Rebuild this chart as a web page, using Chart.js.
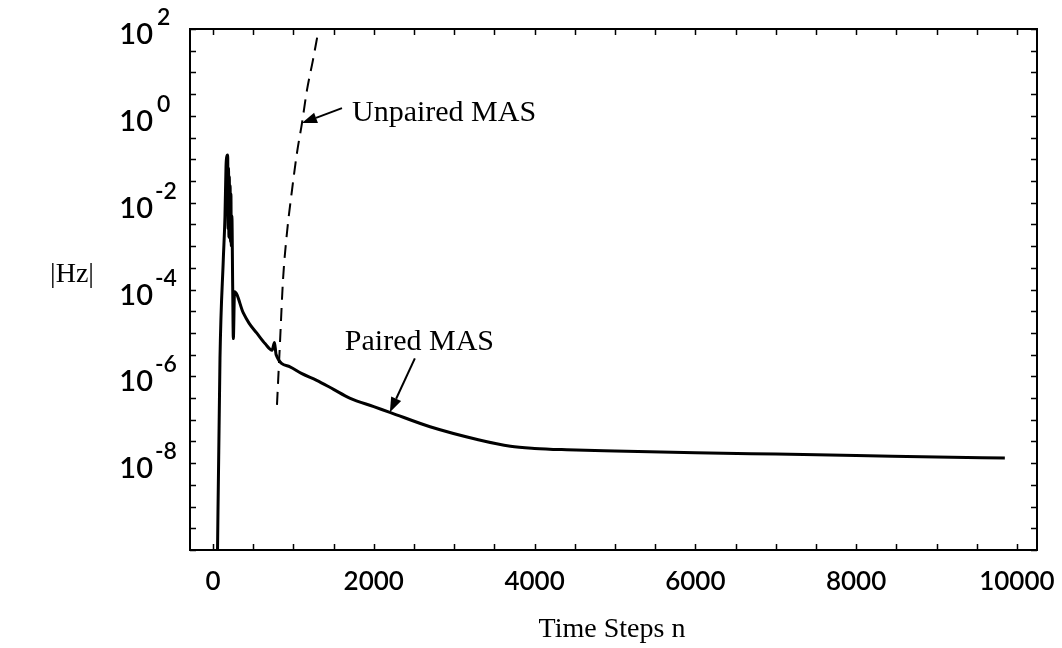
<!DOCTYPE html>
<html>
<head>
<meta charset="utf-8">
<script src="https://cdn.jsdelivr.net/npm/chart.js@4.4.1/dist/chart.umd.min.js"></script>
<style>
  html, body { margin: 0; padding: 0; background: #fff; }
  #wrap { width: 1062px; height: 648px; position: relative; }
</style>
</head>
<body>
<div id="wrap"><canvas id="c"></canvas></div>
<script>
// Paired MAS: |Hz| against time step n
const pairedSteps = [50, 87, 128, 149, 162, 170, 183, 188, 193, 198, 203, 208, 213, 218, 223, 228, 235, 245, 253, 268,
  377, 450, 543, 650, 735, 765, 785, 958, 1100, 1290, 1500, 1700, 2000, 2200, 2700, 3300, 3700,
  4000, 4400, 5000, 6000, 7000, 8000, 9000, 9850];
const pairedHz = [1e-11, 2.6e-6, 4.8e-4, 4.8e-3, 6.8e-2, 1.12e-1, 1.26e-1, 2.5e-3, 6.3e-2, 1.6e-3, 4.0e-2, 2.0e-3, 2.5e-2, 1.26e-3, 1.6e-2, 1.0e-3, 5.0e-3, 1.15e-4, 7.4e-6, 8.9e-5,
  2.88e-5, 1.66e-5, 1.0e-5, 5.6e-6, 3.98e-6, 6.0e-6, 3.16e-6, 1.66e-6, 1.17e-6, 8.1e-7, 5.0e-7, 3.16e-7, 2.0e-7, 1.48e-7, 6.9e-8, 3.47e-8, 2.45e-8,
  2.19e-8, 2.04e-8, 1.91e-8, 1.74e-8, 1.62e-8, 1.51e-8, 1.38e-8, 1.32e-8];

// Unpaired MAS: grows without bound
const unpairedSteps = [796, 833, 871, 920, 983, 1045, 1107, 1169, 1244, 1306, 1360];
const unpairedHz = [2.2e-7, 5.8e-6, 1.66e-4, 2.0e-3, 1.95e-2, 1.41e-1, 6.8e-1, 3.9, 19.5, 81, 280];

// Axis ticks
const xTickLabels = [0, 2000, 4000, 6000, 8000, 10000];
const yTickExponents = [2, 0, -2, -4, -6, -8];

// Annotation anchors (data points the arrows point at)
const unpairedNote = { text: 'Unpaired MAS', n: 1107, hz: 6.8e-1 };
const pairedNote = { text: 'Paired MAS', n: 2200, hz: 1.48e-7 };

const toPoints = (xs, ys) => xs.map((v, i) => ({ x: v, y: ys[i] }));

function arrow(ctx, x0, y0, x1, y1) {
  const ang = Math.atan2(y1 - y0, x1 - x0);
  const len = 15, half = 5.5;
  const bx = x1 - len * Math.cos(ang), by = y1 - len * Math.sin(ang);
  ctx.beginPath();
  ctx.moveTo(x0, y0);
  ctx.lineTo(bx, by);
  ctx.lineWidth = 2;
  ctx.stroke();
  ctx.beginPath();
  ctx.moveTo(x1, y1);
  ctx.lineTo(bx + half * Math.sin(ang), by - half * Math.cos(ang));
  ctx.lineTo(bx - half * Math.sin(ang), by + half * Math.cos(ang));
  ctx.closePath();
  ctx.fill();
}

const frameAndLabels = {
  id: 'frameAndLabels',
  afterDatasetsDraw(chart) {
    const { ctx, chartArea: a, scales: { x, y } } = chart;
    ctx.save();
    ctx.strokeStyle = '#000';
    ctx.fillStyle = '#000';

    // plot frame
    ctx.lineWidth = 2;
    ctx.strokeRect(a.left, a.top, a.right - a.left, a.bottom - a.top);

    // inward ticks: every 500 steps on x, every half decade on y
    const tl = 6;
    ctx.lineWidth = 1.5;
    ctx.beginPath();
    for (let v = 0; v <= x.max; v += 500) {
      const px = Math.round(x.getPixelForValue(v)) + 0.5;
      if (px <= a.left + 1 || px >= a.right - 1) continue;
      ctx.moveTo(px, a.bottom); ctx.lineTo(px, a.bottom - tl);
      ctx.moveTo(px, a.top); ctx.lineTo(px, a.top + tl);
    }
    for (let e = -10; e <= 2; e += 0.5) {
      const py = Math.round(y.getPixelForValue(Math.pow(10, e))) + 0.5;
      ctx.moveTo(a.left, py); ctx.lineTo(a.left + tl, py);
      ctx.moveTo(a.right, py); ctx.lineTo(a.right - tl, py);
    }
    ctx.stroke();

    // x tick labels
    ctx.font = '600 26px Lato';
    ctx.textAlign = 'center';
    ctx.textBaseline = 'alphabetic';
    xTickLabels.forEach(v => {
      ctx.fillText(String(v), x.getPixelForValue(v), 590);
    });

    // y tick labels as 10 with superscript exponent
    yTickExponents.forEach(e => {
      const py = y.getPixelForValue(Math.pow(10, e));
      ctx.font = '600 29px Lato';
      ctx.textAlign = 'right';
      ctx.fillText('10', 153, py + 15);
      ctx.font = '600 23px Lato';
      ctx.textAlign = 'left';
      ctx.fillText(e < 0 ? '-' + Math.abs(e) : String(e), e < 0 ? 155 : 157, py - 4);
    });

    // axis titles
    ctx.font = '28px "Liberation Serif"';
    ctx.textAlign = 'center';
    ctx.fillText('Time Steps n', 612, 637);
    ctx.fillText('|Hz|', 72, 282);

    // annotations
    ctx.textAlign = 'left';
    ctx.font = '30px "Liberation Serif"';
    const ux = x.getPixelForValue(unpairedNote.n), uy = y.getPixelForValue(unpairedNote.hz);
    arrow(ctx, ux + 40, uy - 15, ux, uy);
    ctx.fillText(unpairedNote.text, ux + 50, uy - 2);

    const px = x.getPixelForValue(pairedNote.n), py = y.getPixelForValue(pairedNote.hz);
    arrow(ctx, px + 25, py - 54, px, py);
    ctx.fillText(pairedNote.text, px - 45, py - 62);

    ctx.restore();
  }
};

new Chart(document.getElementById('c'), {
  type: 'line',
  data: {
    datasets: [
      {
        label: 'Paired MAS',
        data: toPoints(pairedSteps, pairedHz),
        borderColor: '#000',
        borderWidth: 3,
        pointRadius: 0,
        cubicInterpolationMode: 'monotone',
        fill: false
      },
      {
        label: 'Unpaired MAS',
        data: toPoints(unpairedSteps, unpairedHz),
        borderColor: '#000',
        borderWidth: 2,
        borderDash: [13, 8],
        pointRadius: 0,
        cubicInterpolationMode: 'monotone',
        fill: false
      }
    ]
  },
  options: {
    responsive: true,
    maintainAspectRatio: false,
    animation: false,
    devicePixelRatio: 1,
    layout: { padding: { left: 190, right: 25, top: 29, bottom: 98 } },
    plugins: { legend: { display: false }, tooltip: { enabled: false } },
    scales: {
      x: { type: 'linear', min: -286, max: 10250, display: false },
      y: { type: 'logarithmic', min: 1e-10, max: 1e2, display: false }
    }
  },
  plugins: [frameAndLabels]
});
</script>
</body>
</html>
